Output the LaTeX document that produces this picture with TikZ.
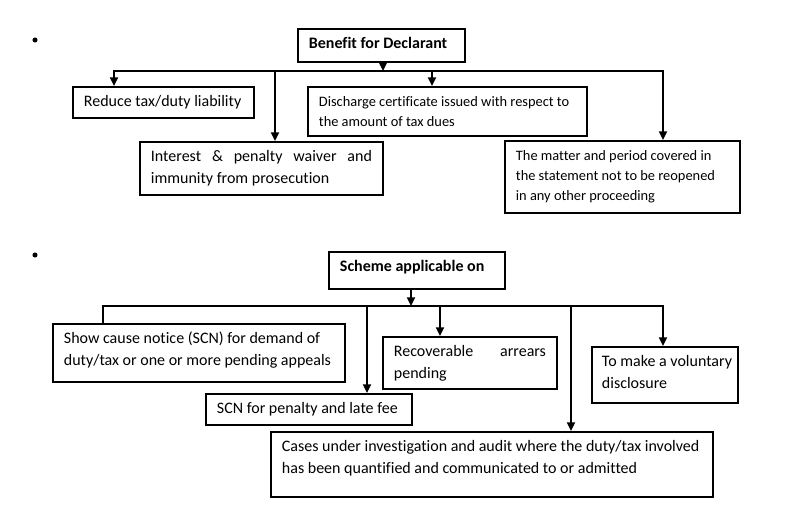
\documentclass[tikz,border=0pt]{standalone}
\usepackage{fontspec}
\setmainfont{Carlito}[Ligatures=NoCommon]
\usetikzlibrary{arrows.meta}
\tikzset{
  box/.style={draw, line width=1.4pt, anchor=north west, inner xsep=8.25pt, inner ysep=3pt,
    font=\fontsize{12}{16.5}\selectfont},
  boldbox/.style={font=\bfseries\fontsize{12}{16.5}\selectfont},
  smallbox/.style={font=\fontsize{10.8}{15}\selectfont},
  ln/.style={line width=1.3pt},
  tipA/.tip={Triangle[length=6.5pt,width=6pt]},
  arr/.style={ln, -tipA},
}
% #1 extra options, #2 name, #3 x1, #4 y1, #5 x2, #6 y2, #7 text
\newcommand\bx[7][]{%
  \node[box,#1] (#2) at (#3,#4) {\parbox[c][\dimexpr(#6pt-#4pt)*3/4-6pt\relax][t]{\dimexpr(#5pt-#3pt)*3/4-16.5pt\relax}{\raggedright\rule{0pt}{12pt}\ignorespaces #7}};}
\begin{document}
\begin{tikzpicture}[x=0.75pt,y=-0.75pt]
\fill[white] (0,0) rectangle (800,530);
\useasboundingbox (0,0) rectangle (800,530);
\fill (35,40) circle (1.9pt);
\fill (35,255) circle (1.9pt);
% ---------- top ----------
\bx[boldbox]{ben}{297}{28}{464}{61}{Benefit for Declarant}
\bx{red}{72}{86}{253}{117}{Reduce tax/duty liability}
\bx{int}{139}{141}{382}{194}{\makebox[\linewidth][s]{Interest \& penalty waiver and}\\immunity from prosecution}
\bx[smallbox]{dis}{307}{86}{586}{135}{\mbox{Discharge certificate issued with respect to}\\the amount of tax dues}
\bx[smallbox]{mat}{504}{140}{739}{212}{\mbox{The matter and period covered in}\\\mbox{the statement not to be reopened}\\in any other proceeding}
\coordinate (b1) at (383,71);
\coordinate (tl) at (114,71);
\coordinate (tr) at (663,71);
\coordinate (t2) at (275,71);
\coordinate (t3) at (432,71);
\draw[ln, tipA-tipA] (tl |- red.north) -- (tl) -- (tr) -- (tr |- mat.north);
\draw[arr] (ben.south -| b1) -- (b1);
\draw[arr] (t2) -- (t2 |- int.north);
\draw[arr] (t3) -- (t3 |- dis.north);
% ---------- bottom ----------
\bx[boldbox]{sch}{328}{251}{504}{288}{Scheme applicable on}
\bx{sc}{52}{323}{344}{381}{\mbox{Show cause notice (SCN) for demand of}\\\mbox{duty/tax or one or more pending appeals}}
\bx{scn}{205}{393}{411}{424}{SCN for penalty and late fee}
\bx{rec}{382}{336}{556}{388}{\makebox[\linewidth][s]{Recoverable arrears}\\pending}
\bx{cas}{270}{431}{712}{496}{\mbox{Cases under investigation and audit where the duty/tax involved}\\\mbox{has been quantified and communicated to or admitted}}
\bx[inner xsep=7.5pt]{vol}{591}{346}{739}{402}{\mbox{To make a voluntary}\\disclosure}
\coordinate (b2) at (411,306);
\coordinate (bl) at (103,306);
\coordinate (br) at (663,306);
\coordinate (s2) at (367,306);
\coordinate (s3) at (440,306);
\coordinate (s4) at (571,306);
\draw[ln, -tipA] (bl |- sc.north) -- (bl) -- (br) -- (br |- vol.north);
\draw[arr] (sch.south -| b2) -- (b2);
\draw[arr] (s2) -- (s2 |- scn.north);
\draw[arr] (s3) -- (s3 |- rec.north);
\draw[arr] (s4) -- (s4 |- cas.north);
\end{tikzpicture}
\end{document}
